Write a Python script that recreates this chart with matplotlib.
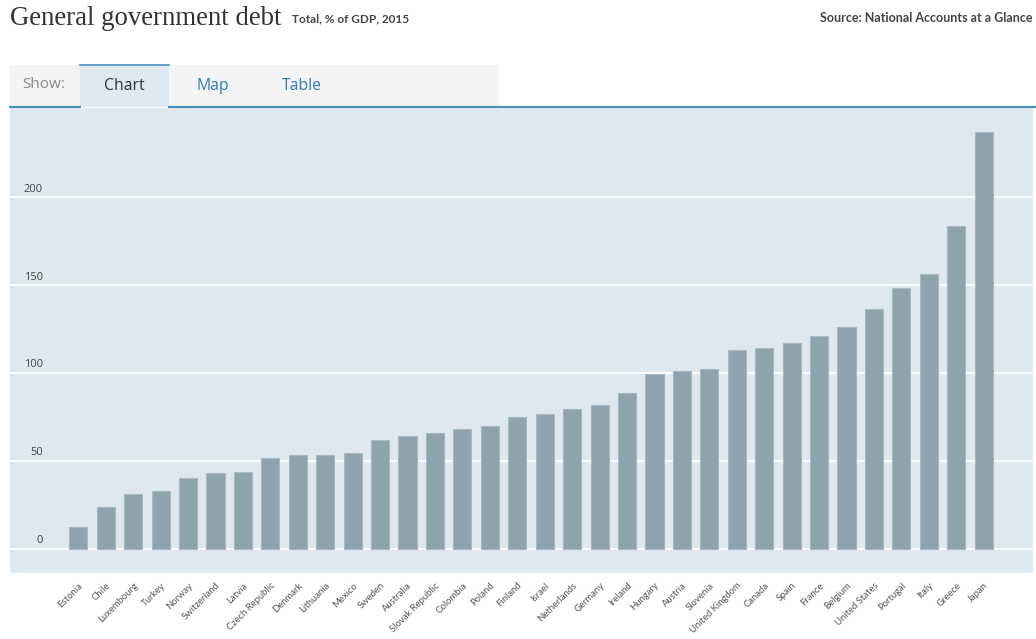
import matplotlib
matplotlib.use("Agg")
import matplotlib.pyplot as plt
from matplotlib.patches import Rectangle
from matplotlib import transforms

countries = ["Estonia", "Chile", "Luxembourg", "Turkey", "Norway", "Switzerland", "Latvia",
             "Czech Republic", "Denmark", "Lithuania", "Mexico", "Sweden", "Australia",
             "Slovak Republic", "Colombia", "Poland", "Finland", "Israel", "Netherlands",
             "Germany", "Ireland", "Hungary", "Austria", "Slovenia", "United Kingdom",
             "Canada", "Spain", "France", "Belgium", "United States", "Portugal", "Italy",
             "Greece", "Japan"]
debt = [12.5, 24.0, 30.9, 33.0, 40.4, 43.0, 43.8,
        51.9, 53.2, 53.2, 54.6, 62.0, 64.0,
        66.0, 68.0, 70.0, 74.9, 76.8, 79.6,
        81.7, 88.5, 99.3, 101.3, 102.0, 113.0,
        114.3, 117.2, 121.2, 125.9, 136.1, 148.2, 156.4,
        183.7, 237.0]
yticks = [0, 50, 100, 150, 200]
title = "General government debt"
subtitle = "Total, % of GDP, 2015"
source = "Source: National Accounts at a Glance"
tabs = ["Chart", "Map", "Table"]

W, H = 1036, 639
fig = plt.figure(figsize=(W / 100, H / 100), dpi=100)
fig.patch.set_facecolor("white")

def fx(x):
    return x / W

def fy(y):
    return 1 - y / H

# header texts
fig.text(fx(10), fy(25), title, family="Liberation Serif", fontsize=19.3, color="#333333",
         ha="left", va="baseline")
fig.text(fx(292), fy(22), subtitle, family="Lato", fontweight="bold", fontsize=8.5,
         color="#444444", ha="left", va="baseline")
fig.text(fx(1032), fy(22), source, family="Lato", fontweight="bold", fontsize=9.0,
         color="#444444", ha="right", va="baseline")

# tab bar
fig.patches.append(Rectangle((fx(10), fy(106)), fx(489), 41 / H, transform=fig.transFigure,
                             facecolor="#f4f4f4", edgecolor="none", zorder=0))
fig.patches.append(Rectangle((fx(80), fy(107)), fx(89), 42 / H, transform=fig.transFigure,
                             facecolor="#dde8f0", edgecolor="none", zorder=1))
fig.lines.append(plt.Line2D([fx(80), fx(169)], [fy(65), fy(65)], transform=fig.transFigure,
                            color="#4a8fc4", lw=1.2))
fig.lines.append(plt.Line2D([fx(10), fx(80)], [fy(106.5), fy(106.5)], transform=fig.transFigure,
                            color="#4a8fc4", lw=1.5))
fig.lines.append(plt.Line2D([fx(169), fx(1036)], [fy(106.5), fy(106.5)], transform=fig.transFigure,
                            color="#4a8fc4", lw=1.5))
fig.text(fx(22), fy(85), "Show:", family="Open Sans", fontsize=11, color="#8a8a8a",
         ha="left", va="center")
tab_x = [124, 213, 302]
tab_col = ["#333333", "#2f7ab8", "#2f7ab8"]
for t, x, c in zip(tabs, tab_x, tab_col):
    fig.text(fx(x), fy(86), t, family="Open Sans", fontsize=11.3, color=c, ha="center", va="center")

# chart axes
ax = fig.add_axes([fx(10), fy(572.5), fx(1022.5), (572.5 - 107.5) / H])
ax.set_facecolor("#dde8f0")
x = list(range(len(countries)))
ax.bar(x, debt, width=0.66, color="#8fa3af", edgecolor="#a8b9c4", linewidth=0.8, zorder=3)
ax.set_xlim(-2.49, 34.78)
ax.set_ylim(-13.5, 251.0)
ax.set_yticks(yticks)
ax.yaxis.grid(True, color="white", lw=1.3, zorder=1)
ax.set_axisbelow(True)
ax.tick_params(axis="y", length=0, labelleft=False)
trans = transforms.blended_transform_factory(ax.transAxes, ax.transData) + \
    transforms.ScaledTranslation(0, 2.5 / 100, fig.dpi_scale_trans)
for v in yticks:
    ax.text(33 / 1022.5, v, str(v), transform=trans, ha="right", va="bottom",
            family="Open Sans", fontsize=8, color="#444444")
ax.set_xticks(x)
ax.set_xticklabels(countries, rotation=45, ha="right", rotation_mode="anchor",
                   family="Lato", fontsize=6.8, color="#555555")
ax.tick_params(axis="x", length=0, pad=6)
for s in ax.spines.values():
    s.set_visible(False)

fig.savefig("out.png", dpi=100, facecolor="white")
